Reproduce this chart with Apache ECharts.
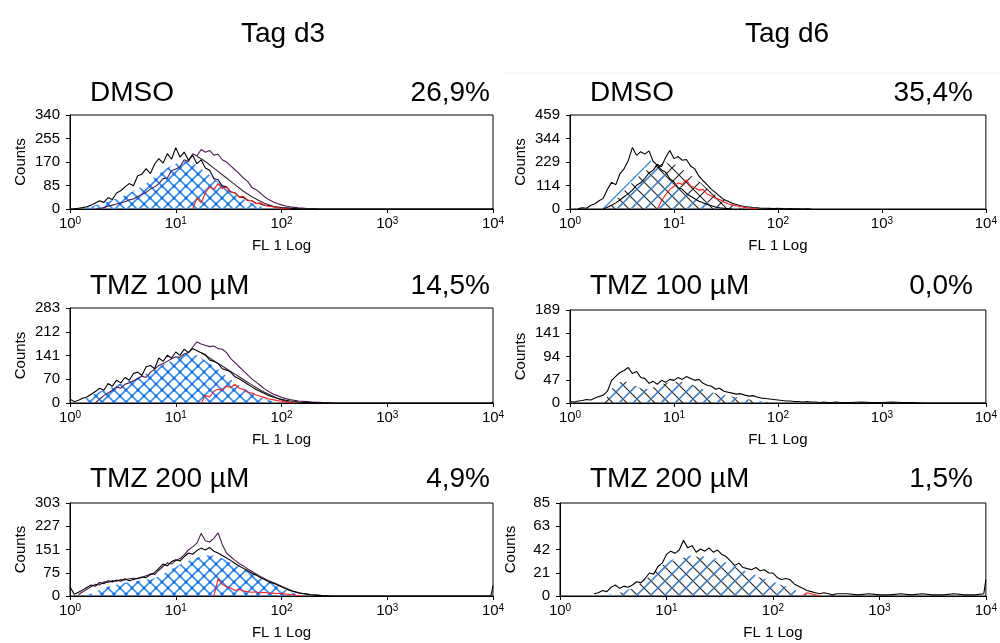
<!DOCTYPE html>
<html>
<head>
<meta charset="utf-8">
<script src="https://cdn.jsdelivr.net/npm/echarts@6/dist/echarts.min.js"></script>
<style>
  html, body { margin: 0; padding: 0; background: #fff; }
  #chart { width: 1000px; height: 643px; }
</style>
</head>
<body>
<div id="chart"></div>
<script>
// FL1 log channels: 25 bins per decade up to ~400, then a sparse tail to 10^4
const FL1_CHANNELS = [
  1.000, 1.096, 1.202, 1.318, 1.445, 1.585, 1.738, 1.905, 2.089, 2.291,
  2.512, 2.754, 3.020, 3.311, 3.631, 3.981, 4.365, 4.786, 5.248, 5.754,
  6.310, 6.918, 7.586, 8.318, 9.120, 10.00, 10.96, 12.02, 13.18, 14.45,
  15.85, 17.38, 19.05, 20.89, 22.91, 25.12, 27.54, 30.20, 33.11, 36.31,
  39.81, 43.65, 47.86, 52.48, 57.54, 63.10, 69.18, 75.86, 83.18, 91.20,
  100.0, 109.6, 120.2, 131.8, 144.5, 158.5, 173.8, 190.5, 208.9, 229.1,
  251.2, 275.4, 302.0, 331.1, 363.1, 398.1,
  501, 631, 794, 1000, 1259, 1585, 1995, 2512, 3162, 3981, 5012, 6310, 7943, 9550, 10000
];
const MAIN_BINS = 66;

// Text
const DAY_TITLES = ['Tag d3', 'Tag d6'];
const ROW_LABELS = ['DMSO', 'TMZ 100 µM', 'TMZ 200 µM'];
const PCT_D3 = ['26,9%', '14,5%', '4,9%'];
const PCT_D6 = ['35,4%', '0,0%', '1,5%'];
const Y_MAX_D3 = [340, 283, 303];
const Y_MAX_D6 = [459, 189, 85];
const X_LABEL = 'FL 1 Log';
const Y_LABEL = 'Counts';

// ---- Day 3, DMSO ----
const D3_DMSO_BLACK = [0,1,3,5,8,14,22,30,24,41, 34,58,66,80,92,84,120,126,146,128, 162,182,166,200,180,222,188,206,176,194, 164,178,148,140,110,106,84,80,62,58, 44,42,31,30,20,19,13,12,8,7, 5,4,3,2,1,0,0,0,1,0, 0,0,0,0,0,0];
const D3_DMSO_BLACK_TAIL = [0,0,0,0,0,0,0,0,0,0,0,0,0,0,3];
const D3_DMSO_PURPLE = [0,2,5,10,14,18,22,26,33,36, 45,52,60,72,80,92,110,112,138,145, 152,178,172,200,192,215,205,212,195,198, 178,170,156,142,128,112,100,78,70,58, 44,34,26,20,15,11,8,6,4,3, 2,1,0];
const D3_DMSO_SMOOTH = [190,182,172,160,148,136,124,112,100,88,76,64,54,44,36,28,21,15,10,6,3,1,0];
const D3_DMSO_FILL = [0,2,5,9,14,19,23,28, 33,38,44,50,57,64,72,82,92,103, 114,126,138,148,157,164,170,174,172,166, 156,146,134,122,110,98,86,75,64,54, 45,36,28,21,15,10,5,2,0];
const D3_DMSO_RED = [0,40,22,58,80,70,92,74,80,62, 58,44,46,32,30,20,22,14,10,8, 5,3,1,0];

// ---- Day 3, TMZ 100 µM ----
const D3_T100_BLACK = [12,4,8,14,18,26,34,44,38,58, 50,68,60,76,68,88,92,82,108,112, 102,134,124,142,134,152,142,160,150,162, 156,150,144,128,124,118,102,98,92,78, 72,64,56,48,40,34,28,22,18,14, 11,8,6,5,3,2,2,1,1,0, 0,0,0,0,0,0];
const D3_T100_BLACK_TAIL = [0,0,0,0,0,0,0,0,0,0,0,0,0,0,3];
const D3_T100_PURPLE = [0,12,22,30,38,48,44,56,60,66, 72,80,76,92,100,112,118,124,132,138, 136,146,150,166,182,176,172,168,170,162, 160,150,132,120,108,96,84,72,62,52, 42,34,27,22,17,13,10,8,6,5, 4,3,2,2,1,1,0];
const D3_T100_SMOOTH = [150,142,134,126,118,110,102,94,86,78,70,62,54,46,39,32,26,20,14,9,5,2,0];
const D3_T100_FILL = [0,8,16,22,28,34,38,43, 48,53,58,62,66,70,76,82,88,94, 100,107,114,120,126,133,139,144,148,149, 142,134,126,118,110,100,90,80,70,61, 52,44,37,30,24,18,13,8,5,2,0];
const D3_T100_RED = [0,22,18,34,42,38,50,46,55,44, 40,32,30,24,20,16,12,10,7,5, 3,1,0];

// ---- Day 3, TMZ 200 µM ----
const D3_T200_BLACK = [30,6,12,20,28,36,32,44,40,50, 46,52,48,56,50,54,58,62,60,70, 76,90,104,98,112,118,114,128,140,136, 148,156,150,158,146,140,132,124,116,106, 98,90,82,74,68,60,54,46,42,36, 30,24,18,14,10,8,6,4,3,2, 1,1,0,0,0,0];
const D3_T200_BLACK_TAIL = [0,0,0,0,0,0,0,0,0,0,0,0,0,0,34];
const D3_T200_PURPLE = [4,14,22,30,38,36,46,44, 50,48,54,52,56,58,56,60,66,72, 70,84,96,108,104,116,122,134,150,160, 172,204,180,176,188,206,168,140,128,116, 106,98,88,80,72,64,56,50,44,38, 32,26,20,15,11,8,6,4,3,2, 1,0];
const D3_T200_FILL = [0,8,14,20,25,30, 34,37,40,43,45,47,49,51,53,55, 58,64,72,80,88,95,102,109,115,120, 125,129,132,133,132,128,122,116,109,102, 95,88,81,74,67,60,53,46,39,32, 26,20,14,8,3,0];
const D3_T200_RED = [0,56,38,30,26,18,22,16,14,12, 14,10,12,9,10,8,9,6,5,3, 1,0];

// ---- Day 6, DMSO ----
const D6_DMSO_BLACK_A = [2,6,4,18,26,40,52,96, 130,118,172,196,236,300,262,280,268,284, 232,214,190,180,148,132,104,96,76,62, 50,38,30,22,16,10,6,4,2,0];
const D6_DMSO_BLACK_B = [0,8, 18,30,44,60,74,92,116,128,150,176, 190,218,206,252,286,246,256,238,242,210, 196,160,138,118,96,80,62,46,38,28, 22,16,12,10,7,6,4,4,3,2, 3,2,1,2,1,1,0,1,0];
const D6_DMSO_FILL_A = [0,22,46, 70,94,118,142,164,185,205,225,242,248, 222,204,186,168,150,130,114,100,86,74, 62,52,42,34,26,19,13,8,4,2, 0];
const D6_DMSO_FILL_B = [0, 20,44,66,88,110,130,150,168,184,198, 208,216,221,224,224,220,210,196,180,164, 150,136,118,100,84,70,56,44,32,22, 12,5,0];
const D6_DMSO_RED = [0,40,70,96,110,128,120,142,112, 104,92,96,72,64,52,46,34,26,20, 16,12,8,5,3,0];

// ---- Day 6, TMZ 100 µM ----
const D6_T100_BLACK = [3,2,4,5,7,6,10,13,16,24, 46,54,62,66,72,60,64,52,50,40, 44,38,46,42,48,46,52,48,54,50, 46,48,40,36,34,28,30,24,22,20, 18,19,16,14,15,12,10,9,8,7, 6,5,4,4,3,3,2,3,2,2, 1,2,1,1,2,1];
const D6_T100_BLACK_TAIL = [1,2,1,1,2,1,1,0,0,0,0,0,0,0,0];
const D6_T100_FILL_A = [0, 20,30,36,38,38,36,33,30,28,28, 30,32,34,36,38,39,40,40,39,37, 34,31,28,25,22,19,17,15,13,12, 10,9,8,6,5,4,3,2,1,0];
const D6_T100_FILL_B = [0,14, 28,36,42,44,42,38,34,30,28,29, 32,35,38,40,42,43,43,42,40,38, 35,32,28,25,22,20,18,16,14,13, 11,10,8,7,6,4,3,2,1,0];

// ---- Day 6, TMZ 200 µM ----
const D6_T200_BLACK = [2,3, 5,4,8,10,7,9,8,10,13,12, 16,21,20,27,30,38,41,39,42,51, 44,46,40,43,41,44,40,42,38,36, 32,28,30,26,25,24,26,23,24,21, 21,17,15,16,15,11,9,7,5,4, 3,2,3,2,1,2];
const D6_T200_BLACK_TAIL = [2,1,2,1,1,2,1,2,1,1,2,1,1,2,15];
const D6_T200_FILL_A = [0,2,3,4,5,6,8,10,13, 16,19,23,27,29,31,33,34,35,36, 37,37,37,37,36,36,35,34,32,31, 30,28,26,24,22,21,19,18,16,15, 13,12,10,9,8,6,4,3,2,0];
const D6_T200_FILL_B = [0,2,3,4,5,7,9,12, 15,18,22,25,28,30,32,33,34,35, 36,36,36,35,35,34,33,32,31,30, 29,27,25,23,21,20,18,17,15,14, 12,11,10,8,7,5,3,2,0];
const D6_T200_RED = [0,3,2,1,0];

// ---------- drawing ----------
const FONT = '"Liberation Sans", Arial, Helvetica, sans-serif';

function hatch(size, strokes, dots) {
  const c = document.createElement('canvas');
  c.width = size; c.height = size;
  const g = c.getContext('2d');
  strokes.forEach(s => {
    g.strokeStyle = s.color;
    g.lineWidth = s.width;
    g.beginPath();
    [-size, 0, size].forEach(o => {
      if (s.dir === '/') { g.moveTo(o, size); g.lineTo(o + size, 0); }
      else { g.moveTo(o, 0); g.lineTo(o + size, size); }
    });
    g.stroke();
  });
  if (dots) {
    g.fillStyle = dots;
    [[size / 2, size / 2], [0, 0], [size, 0], [0, size], [size, size]].forEach(p => {
      g.beginPath(); g.arc(p[0], p[1], 1.5, 0, Math.PI * 2); g.fill();
    });
  }
  return { image: c, repeat: 'repeat' };
}

const BLUE_CROSS = hatch(12, [
  { dir: '/', color: '#3592f5', width: 1.6 },
  { dir: '\\', color: '#3592f5', width: 1.6 }
], '#1a6ae0');
const BLUE_SLASH = hatch(14, [{ dir: '/', color: '#3a8fe8', width: 1.4 }]);
const BLACK_CROSS = hatch(14, [
  { dir: '\\', color: '#222222', width: 1.1 },
  { dir: '/', color: '#222222', width: 1.1 }
]);

function pts(vals, from, tail) {
  return FL1_CHANNELS.map((x, i) => {
    let v = null;
    if (i < MAIN_BINS) {
      const j = i - from;
      if (j >= 0 && j < vals.length) v = vals[j];
    } else if (tail) {
      v = tail[i - MAIN_BINS];
    }
    return [x, v];
  });
}

const COLORS = { black: '#000000', purple: '#4e1b55', smooth: '#3a2c3c', red: '#ff1c1c' };

// panel layout and the series drawn in each
const PANELS = [
  { grid: { left: 70, top: 115, width: 423, height: 94 }, yMax: Y_MAX_D3[0], series: [
    { fill: BLUE_CROSS, data: D3_DMSO_FILL, from: 2 },
    { line: 'smooth', data: D3_DMSO_SMOOTH, from: 30 },
    { line: 'purple', data: D3_DMSO_PURPLE, from: 6 },
    { line: 'black', data: D3_DMSO_BLACK, from: 0, tail: D3_DMSO_BLACK_TAIL },
    { line: 'red', data: D3_DMSO_RED, from: 29 } ] },
  { grid: { left: 570, top: 115, width: 423, height: 94 }, yMax: Y_MAX_D6[0], series: [
    { fill: BLACK_CROSS, data: D6_DMSO_FILL_B, from: 9 },
    { fill: BLUE_SLASH, data: D6_DMSO_FILL_A, from: 7 },
    { line: 'black', data: D6_DMSO_BLACK_B, from: 8 },
    { line: 'black', data: D6_DMSO_BLACK_A, from: 2 },
    { line: 'red', data: D6_DMSO_RED, from: 21 } ] },
  { grid: { left: 70, top: 308, width: 423, height: 95 }, yMax: Y_MAX_D3[1], series: [
    { fill: BLUE_CROSS, data: D3_T100_FILL, from: 2 },
    { line: 'smooth', data: D3_T100_SMOOTH, from: 31 },
    { line: 'purple', data: D3_T100_PURPLE, from: 6 },
    { line: 'black', data: D3_T100_BLACK, from: 0, tail: D3_T100_BLACK_TAIL },
    { line: 'red', data: D3_T100_RED, from: 31 } ] },
  { grid: { left: 570, top: 310, width: 423, height: 93 }, yMax: Y_MAX_D6[1], series: [
    { fill: BLACK_CROSS, data: D6_T100_FILL_B, from: 8 },
    { fill: BLUE_SLASH, data: D6_T100_FILL_A, from: 9 },
    { line: 'black', data: D6_T100_BLACK, from: 0, tail: D6_T100_BLACK_TAIL } ] },
  { grid: { left: 70, top: 503, width: 423, height: 93 }, yMax: Y_MAX_D3[2], series: [
    { fill: BLUE_CROSS, data: D3_T200_FILL, from: 4 },
    { line: 'purple', data: D3_T200_PURPLE, from: 2 },
    { line: 'black', data: D3_T200_BLACK, from: 0, tail: D3_T200_BLACK_TAIL },
    { line: 'red', data: D3_T200_RED, from: 34 } ] },
  { grid: { left: 560, top: 503, width: 433, height: 93 }, yMax: Y_MAX_D6[2], series: [
    { fill: BLACK_CROSS, data: D6_T200_FILL_B, from: 12 },
    { fill: BLUE_SLASH, data: D6_T200_FILL_A, from: 11 },
    { line: 'black', data: D6_T200_BLACK, from: 8, tail: D6_T200_BLACK_TAIL },
    { line: 'red', data: D6_T200_RED, from: 57 } ] }
];

const grids = [], xAxes = [], yAxes = [], series = [];
PANELS.forEach((p, idx) => {
  grids.push(Object.assign({ show: true, borderColor: '#000', borderWidth: 1, backgroundColor: 'transparent' }, p.grid));
  xAxes.push({
    type: 'log', logBase: 10, min: 1, max: 10000, gridIndex: idx,
    axisLine: { lineStyle: { color: '#000', width: 1 } },
    axisTick: { length: 4, lineStyle: { color: '#000' } },
    splitLine: { show: false },
    axisLabel: {
      margin: 7,
      formatter: v => '{b|10}{s|' + Math.round(Math.log10(v)) + '}',
      rich: {
        b: { fontSize: 15, fontFamily: FONT, color: '#000', lineHeight: 16 },
        s: { fontSize: 10, fontFamily: FONT, color: '#000', verticalAlign: 'top', lineHeight: 16, padding: [0, 0, 6, 0] }
      }
    },
    name: X_LABEL, nameLocation: 'middle', nameGap: 29,
    nameTextStyle: { fontSize: 15, fontFamily: FONT, color: '#000' }
  });
  yAxes.push({
    type: 'value', min: 0, max: p.yMax, interval: p.yMax / 4, gridIndex: idx,
    axisLine: { show: true, lineStyle: { color: '#000', width: 1 } },
    axisTick: { show: true, length: 4, lineStyle: { color: '#000' } },
    splitLine: { show: false },
    axisLabel: { margin: 10, fontSize: 15, fontFamily: FONT, color: '#000',
      formatter: v => String(Math.floor(v + 1e-6)) },
    name: Y_LABEL, nameLocation: 'middle', nameRotate: 90, nameGap: 42,
    nameTextStyle: { fontSize: 15, fontFamily: FONT, color: '#000' }
  });
  p.series.forEach((s, k) => {
    const base = {
      type: 'line', xAxisIndex: idx, yAxisIndex: idx, symbol: 'none', showSymbol: false,
      silent: true, animation: false, connectNulls: false, z: 2 + k,
      data: pts(s.data, s.from, s.tail)
    };
    if (s.fill) {
      base.lineStyle = { width: 0, opacity: 0 };
      base.areaStyle = { color: s.fill, opacity: 1 };
    } else {
      base.lineStyle = { width: 1.1, color: COLORS[s.line] };
    }
    series.push(base);
  });
});

function txt(text, x, y, size, align) {
  return { type: 'text', x: x, y: y, silent: true,
    style: { text: text, font: size + 'px ' + FONT, fill: '#000',
      textAlign: align, textVerticalAlign: 'middle', align: align, verticalAlign: 'middle' } };
}

const ROW_Y = [93, 286, 479];
const graphics = [
  { type: 'line', silent: true, shape: { x1: 505, y1: 73, x2: 1000, y2: 73 }, style: { stroke: '#efefef', lineWidth: 1 } },
  txt(DAY_TITLES[0], 283, 34, 28, 'center'),
  txt(DAY_TITLES[1], 787, 34, 28, 'center')
];
ROW_LABELS.forEach((lab, r) => {
  graphics.push(txt(lab, 90, ROW_Y[r], 28, 'left'));
  graphics.push(txt(PCT_D3[r], 490, ROW_Y[r], 28, 'right'));
  graphics.push(txt(lab, 590, ROW_Y[r], 28, 'left'));
  graphics.push(txt(PCT_D6[r], 973, ROW_Y[r], 28, 'right'));
});

const chart = echarts.init(document.getElementById('chart'), null, { renderer: 'canvas' });
chart.setOption({
  animation: false,
  backgroundColor: '#fff',
  textStyle: { fontFamily: FONT },
  grid: grids,
  xAxis: xAxes,
  yAxis: yAxes,
  series: series,
  graphic: graphics
});
</script>
</body>
</html>
